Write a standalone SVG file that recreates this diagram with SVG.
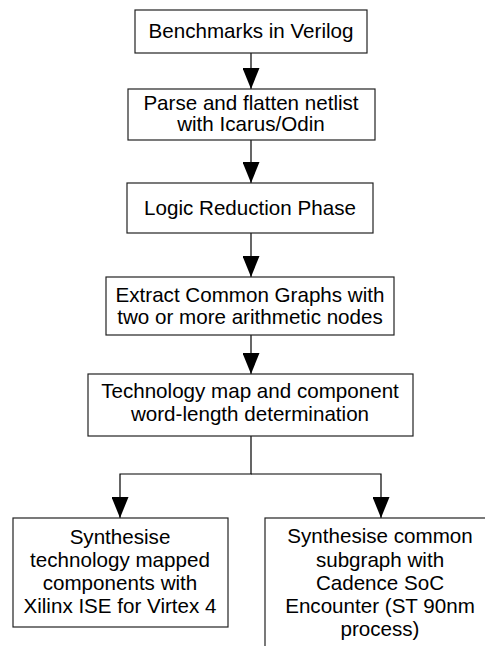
<svg xmlns="http://www.w3.org/2000/svg" width="485" height="646" viewBox="0 0 485 646">
<style>
.box{fill:#fff;stroke:#222;stroke-width:1.2}
.t{font-family:"Liberation Sans",Arial,sans-serif;font-size:20.6px;fill:#000;text-anchor:middle}
.c{fill:none;stroke:#000;stroke-width:1.2}
</style>
<defs>
<marker id="ahd" markerUnits="userSpaceOnUse" markerWidth="17" markerHeight="21" viewBox="0 0 17 21" refX="8.5" refY="21" orient="0">
<path d="M0,0 L17,0 L8.5,21 Z" fill="#000"/>
</marker>
</defs>
<rect width="485" height="646" fill="#fff"/>
<g id="connectors">
<line class="c" x1="251" y1="53" x2="251" y2="89" marker-end="url(#ahd)"/>
<line class="c" x1="251" y1="140" x2="251" y2="183" marker-end="url(#ahd)"/>
<line class="c" x1="251" y1="233" x2="251" y2="277" marker-end="url(#ahd)"/>
<line class="c" x1="251" y1="335" x2="251" y2="374" marker-end="url(#ahd)"/>
<polyline class="c" points="251,436 251,474 120,474 120,518" marker-end="url(#ahd)"/>
<polyline class="c" points="251,474 381,474 381,518" marker-end="url(#ahd)"/>
</g>
<g id="n1">
<rect class="box" x="135" y="10" width="232" height="43"/>
<text class="t" x="251" y="38">Benchmarks in Verilog</text>
</g>
<g id="n2">
<rect class="box" x="128" y="89" width="247" height="51"/>
<text class="t" x="251" y="110">Parse and flatten netlist</text>
<text class="t" x="251" y="131">with Icarus/Odin</text>
</g>
<g id="n3">
<rect class="box" x="127" y="183" width="246" height="50"/>
<text class="t" x="250" y="215">Logic Reduction Phase</text>
</g>
<g id="n4">
<rect class="box" x="106" y="277" width="288" height="58"/>
<text class="t" x="250" y="302">Extract Common Graphs with</text>
<text class="t" x="250" y="324">two or more arithmetic nodes</text>
</g>
<g id="n5">
<rect class="box" x="88" y="374" width="325" height="62"/>
<text class="t" x="250" y="398">Technology map and component</text>
<text class="t" x="250" y="421">word-length determination</text>
</g>
<g id="n6">
<rect class="box" x="13" y="518" width="215" height="109"/>
<text class="t" x="120" y="544">Synthesise</text>
<text class="t" x="120" y="567">technology mapped</text>
<text class="t" x="120" y="590">components with</text>
<text class="t" x="120" y="613">Xilinx ISE for Virtex 4</text>
</g>
<g id="n7">
<rect class="box" x="265" y="518" width="240" height="140"/>
<text class="t" x="380" y="543">Synthesise common</text>
<text class="t" x="380" y="567">subgraph with</text>
<text class="t" x="380" y="590">Cadence SoC</text>
<text class="t" x="380" y="613">Encounter (ST 90nm</text>
<text class="t" x="380" y="636">process)</text>
</g>
</svg>
